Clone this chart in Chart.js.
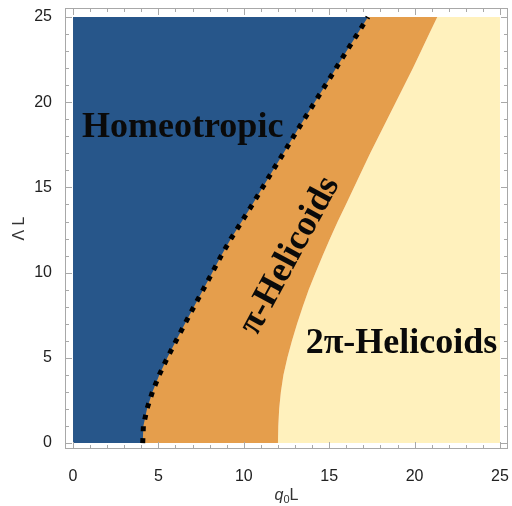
<!DOCTYPE html>
<html>
<head>
<meta charset="utf-8">
<script src="https://cdn.jsdelivr.net/npm/chart.js@4.4.1/dist/chart.umd.min.js"></script>
<style>
  html, body { margin: 0; padding: 0; background: #fff; }
</style>
</head>
<body>
<canvas id="phaseDiagram" width="512" height="506"></canvas>
<script>
// Lambda*L values (vertical axis) where the boundaries were read
const lambdaL = [0, 1, 2, 3, 4, 5, 6, 7, 8, 9, 10, 11, 12, 13, 14, 15, 16, 17, 18, 19, 20, 21, 22, 23, 24, 25];
// q0*L of the homeotropic / pi-helicoid boundary (dotted line)
const homeoBoundary = [4.08, 4.12, 4.33, 4.65, 5.05, 5.52, 6.03, 6.55, 7.08, 7.62, 8.15, 8.68, 9.25, 9.88, 10.5, 11.1, 11.7, 12.32, 12.92, 13.53, 14.15, 14.78, 15.4, 16.02, 16.65, 17.27];
// q0*L of the pi / 2pi helicoid boundary
const helicoidBoundary = [12.0, 12.02, 12.07, 12.17, 12.32, 12.55, 12.82, 13.12, 13.45, 13.8, 14.2, 14.62, 15.05, 15.5, 15.98, 16.45, 16.92, 17.4, 17.9, 18.4, 18.9, 19.4, 19.9, 20.38, 20.85, 21.33];

const xTicks = [0, 5, 10, 15, 20, 25];
const yTicks = [0, 5, 10, 15, 20, 25];
const minorTicks = [0, 1, 2, 3, 4, 5, 6, 7, 8, 9, 10, 11, 12, 13, 14, 15, 16, 17, 18, 19, 20, 21, 22, 23, 24, 25];

const phaseLabels = [
    { text: 'Homeotropic', x: 0.53, y: 17.96, angle: 0, align: 'left' },
    { text: '\u03c0-Helicoids', x: 12.7, y: 11.0, angle: -61.5, align: 'center' },
    { text: '2\u03c0-Helicoids', x: 13.62, y: 5.3, angle: 0, align: 'left' }
];

const toPoints = (xs) => xs.map((x, i) => ({ x: x, y: lambdaL[i] }));

const decor = {
    id: 'decor',
    afterDatasetsDraw(chart) {
        const { ctx, scales: { x, y } } = chart;
        ctx.save();
        ctx.fillStyle = '#0a0a0a';
        ctx.font = 'bold 36px "Liberation Serif", serif';
        phaseLabels.forEach(l => {
            ctx.save();
            ctx.translate(x.getPixelForValue(l.x), y.getPixelForValue(l.y));
            ctx.rotate(l.angle * Math.PI / 180);
            ctx.textAlign = l.align;
            ctx.textBaseline = l.angle ? 'middle' : 'alphabetic';
            ctx.fillText(l.text, 0, 0);
            ctx.restore();
        });
        ctx.restore();
    },
    afterDraw(chart) {
        const { ctx, chartArea: a, scales: { x, y } } = chart;
        ctx.save();
        ctx.strokeStyle = '#a8a8a8';
        ctx.lineWidth = 1;
        ctx.strokeRect(a.left + 0.5, a.top + 0.5, a.right - a.left - 1, a.bottom - a.top - 1);
        ctx.beginPath();
        minorTicks.forEach(v => {
            const len = v % 5 === 0 ? 7 : 4;
            const px = Math.round(x.getPixelForValue(v)) + 0.5;
            ctx.moveTo(px, a.bottom); ctx.lineTo(px, a.bottom - len);
            ctx.moveTo(px, a.top); ctx.lineTo(px, a.top + len);
            const py = Math.round(y.getPixelForValue(v)) + 0.5;
            ctx.moveTo(a.left, py); ctx.lineTo(a.left + len, py);
            ctx.moveTo(a.right, py); ctx.lineTo(a.right - len, py);
        });
        ctx.stroke();

        // axis titles
        ctx.fillStyle = '#333';
        ctx.font = '16px "Liberation Sans", Arial, sans-serif';
        ctx.textBaseline = 'middle';
        ctx.save();
        ctx.translate(20, (a.top + a.bottom) / 2);
        ctx.rotate(-Math.PI / 2);
        ctx.textAlign = 'center';
        ctx.fillText('\u039b L', 0, 0);
        ctx.restore();

        const cx = (a.left + a.right) / 2;
        const ty = 496;
        ctx.font = 'italic 16px "Liberation Sans", Arial, sans-serif';
        const wq = ctx.measureText('q').width;
        ctx.font = '11px "Liberation Sans", Arial, sans-serif';
        const w0 = ctx.measureText('0').width;
        ctx.font = '16px "Liberation Sans", Arial, sans-serif';
        const wl = ctx.measureText('L').width;
        let sx = cx - (wq + w0 + wl) / 2;
        ctx.textAlign = 'left';
        ctx.font = 'italic 16px "Liberation Sans", Arial, sans-serif';
        ctx.fillText('q', sx, ty);
        sx += wq;
        ctx.font = '11px "Liberation Sans", Arial, sans-serif';
        ctx.fillText('0', sx, ty + 4);
        sx += w0;
        ctx.font = '16px "Liberation Sans", Arial, sans-serif';
        ctx.fillText('L', sx, ty);
        ctx.restore();
    }
};

const canvas = document.getElementById('phaseDiagram');
const phaseChart = new Chart(canvas, {
    type: 'line',
    data: {
        datasets: [{
            label: 'Homeotropic boundary',
            data: toPoints(homeoBoundary),
            borderColor: '#000',
            borderWidth: 5,
            borderDash: [5, 6.8],
            borderCapStyle: 'butt',
            backgroundColor: '#27568a',
            fill: { value: 0 }
        }, {
            label: 'pi-Helicoids',
            data: toPoints(helicoidBoundary),
            borderWidth: 0,
            borderColor: 'rgba(0,0,0,0)',
            backgroundColor: '#e59e4c',
            fill: { value: 0 }
        }, {
            label: '2pi-Helicoids',
            data: toPoints(helicoidBoundary),
            borderWidth: 0,
            borderColor: 'rgba(0,0,0,0)',
            backgroundColor: '#fff1bd',
            fill: { value: 25 }
        }]
    },
    options: {
        responsive: false,
        animation: false,
        indexAxis: 'y',
        layout: { padding: { top: 8, right: 4, left: 0, bottom: 0 } },
        elements: { point: { radius: 0 }, line: { tension: 0 } },
        plugins: { legend: { display: false }, tooltip: { enabled: false } },
        scales: {
            x: {
                type: 'linear',
                min: -0.47,
                max: 25.47,
                grid: { display: false },
                border: { display: false },
                ticks: { color: '#222', padding: 10, font: { size: 16, family: '"Liberation Sans", Arial, sans-serif' } },
                afterBuildTicks(s) { s.ticks = xTicks.map(v => ({ value: v })); },
                afterFit(s) { s.height = 57; s.paddingLeft = 0; s.paddingRight = 0; }
            },
            y: {
                type: 'linear',
                min: -0.35,
                max: 25.53,
                grid: { display: false },
                border: { display: false },
                ticks: { color: '#222', padding: 5, font: { size: 16, family: '"Liberation Sans", Arial, sans-serif' } },
                afterBuildTicks(s) { s.ticks = yTicks.map(v => ({ value: v })); },
                afterFit(s) { s.width = 65; s.paddingTop = 0; s.paddingBottom = 0; }
            }
        }
    },
    plugins: [decor]
});
</script>
</body>
</html>
